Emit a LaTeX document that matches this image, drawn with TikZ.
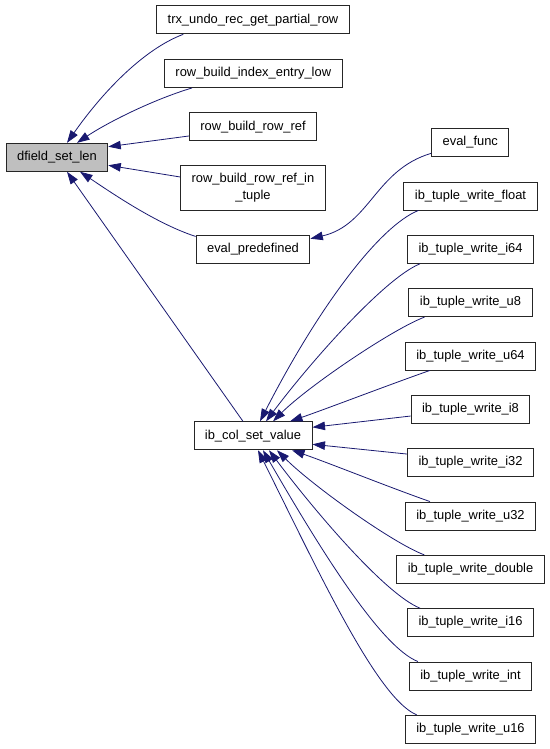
\documentclass[tikz,border=0pt]{standalone}
\usepackage{fontspec}
\setmainfont{Liberation Sans}
\usepackage{tikz}
\usetikzlibrary{arrows.meta,calc}
\usepackage{xcolor}
\definecolor{edgeblue}{HTML}{191970}
\definecolor{hlgray}{HTML}{BFBFBF}

\begin{document}
\begin{tikzpicture}[x=1pt, y=-1pt,
  fn/.style={draw=black!85, line width=0.9pt, fill=white, inner xsep=11pt, inner ysep=0pt,
    minimum height=28pt, align=center, font=\fontsize{12.9}{16.5}\selectfont},
  call/.style={draw=edgeblue, line width=0.8pt, -{Triangle[length=12.5pt,width=8.5pt,fill=edgeblue]}}]
\useasboundingbox (0,0) rectangle (549,749);
% funzione analizzata
\node[fn, fill=hlgray] (dsl) at (57,157.3) {dfield\_set\_len};
% chiamanti diretti
\node[fn] (trx)    at (253,19.9)  {trx\_undo\_rec\_get\_partial\_row};
\node[fn] (rbiel)  at (253.3,73.5) {row\_build\_index\_entry\_low};
\node[fn] (rbrr)   at (253,126.7) {row\_build\_row\_ref};
\node[fn, minimum height=45.7pt] (rbrrit) at (253,187.8) {row\_build\_row\_ref\_in\\\_tuple};
\node[fn] (evpre)  at (253,249.4) {eval\_predefined};
\node[fn] (cv)     at (253,435.8) {ib\_col\_set\_value};
% colonna destra
\node[fn] (evf) at (470.3,142.5) {eval\_func};
\foreach \n [count=\i from 0] in {float,i64,u8,u64,i8,i32,u32,double,i16,int,u16}{
  \node[fn] (w\n) at (470.5,196+53.33*\i) {ib\_tuple\_write\_\n};
}
% archi verso dfield_set_len
\draw[call] ([xshift=27pt]trx.south west) .. controls +(-40,15) and +(35,-50) .. ([xshift=10pt]dsl.north);
\draw[call] ([xshift=28pt]rbiel.south west) .. controls +(-40,12) and +(30,-20) .. ([xshift=20pt]dsl.north);
\draw[call] ([yshift=-9.3pt]rbrr.west) -- ([yshift=10.6pt]dsl.east);
\draw[call] ([yshift=10.8pt]rbrrit.west) -- ([yshift=-8pt]dsl.east);
\draw[call] ([yshift=-1.5pt]evpre.north west) .. controls +(-40,-13) and +(30,20) .. ([xshift=23pt]dsl.south);
\draw[call] ([xshift=-10pt]cv.north) -- ([xshift=10pt]dsl.south);
% eval_func
\draw[call] ([yshift=-10.8pt]evf.west) .. controls (375,170) and (370,225) .. ([yshift=10.7pt]evpre.east);
% archi verso ib_col_set_value
\draw[call] ([xshift=15pt]wfloat.south west) .. controls +(-38,15) and +(60,-117) .. ([xshift=7pt]cv.north);
\draw[call] ([xshift=13pt]wi64.south west) .. controls +(-35,14) and +(45,-60) .. ([xshift=13pt]cv.north);
\draw[call] ([xshift=16pt]wu8.south west) .. controls +(-32,12) and +(35,-35) .. ([xshift=20pt]cv.north);
\draw[call] ([xshift=25pt]wu64.south west) .. controls +(-40,14) and +(35,-12) .. ([xshift=37pt]cv.north);
\draw[call] ([yshift=-6.7pt]wi8.west) -- ([yshift=8.5pt]cv.east);
\draw[call] ([yshift=8.6pt]wi32.west) -- ([yshift=-8.5pt]cv.east);
\draw[call] ([xshift=25pt]wu32.north west) .. controls +(-40,-14) and +(35,12) .. ([xshift=39pt]cv.south);
\draw[call] ([xshift=28pt]wdouble.north west) .. controls +(-32,-12) and +(35,35) .. ([xshift=24pt]cv.south);
\draw[call] ([xshift=13pt]wi16.north west) .. controls +(-35,-14) and +(45,60) .. ([xshift=16pt]cv.south);
\draw[call] ([xshift=9pt]wint.north west) .. controls +(-38,-15) and +(55,95) .. ([xshift=10pt]cv.south);
\draw[call] ([xshift=11.7pt]wu16.north west) .. controls +(-40,-17) and +(60,120) .. ([xshift=5pt]cv.south);
\end{tikzpicture}
\end{document}
